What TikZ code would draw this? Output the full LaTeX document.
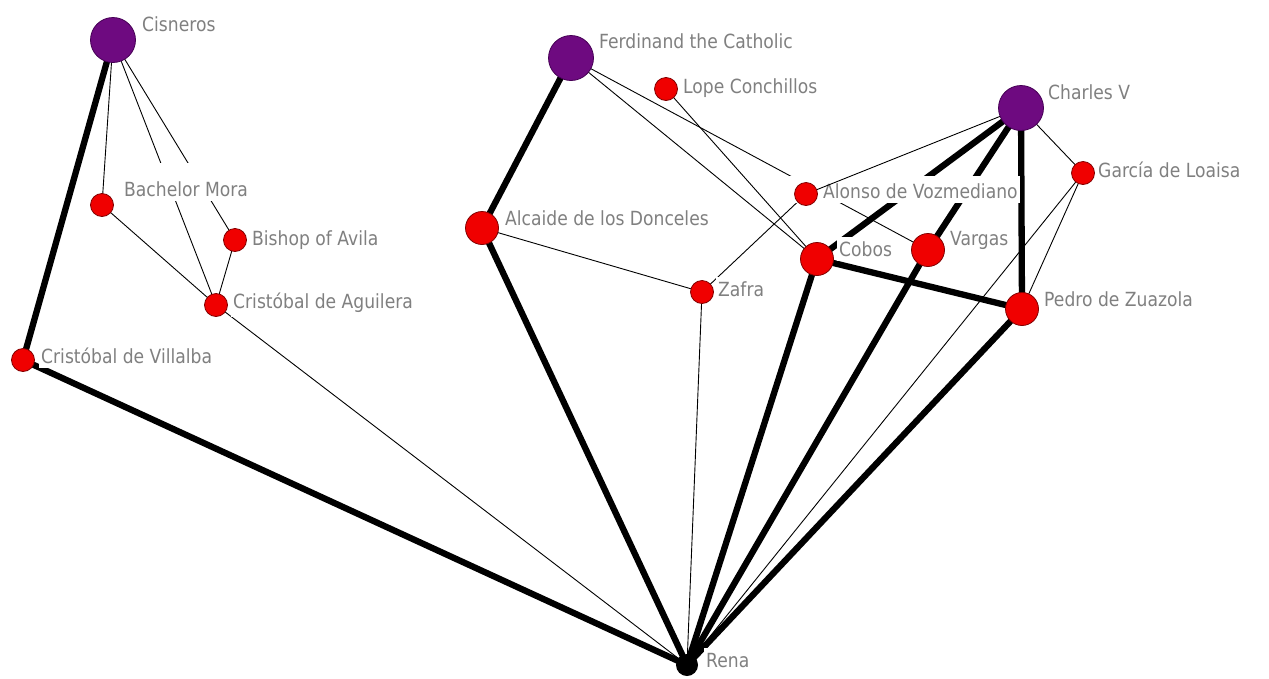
\documentclass[tikz,border=0pt]{standalone}
\usepackage{fontspec}
\setmainfont{DejaVu Sans}[FakeStretch=0.88]
\definecolor{labgray}{RGB}{128,128,128}
\definecolor{purp}{RGB}{110,10,128}
\definecolor{purpdark}{RGB}{70,0,85}
\definecolor{redfill}{RGB}{240,0,0}
\definecolor{reddark}{RGB}{130,0,0}
\tikzset{
  thin edge/.style={line width=0.9pt, black},
  thick edge/.style={line width=6.3pt, black},
  bignode/.style={circle, fill=purp, draw=purpdark, line width=0.8pt, minimum size=45pt, inner sep=0pt},
  midnode/.style={circle, fill=redfill, draw=reddark, line width=0.8pt, minimum size=33pt, inner sep=0pt},
  smallnode/.style={circle, fill=redfill, draw=reddark, line width=0.8pt, minimum size=23pt, inner sep=0pt},
  blacknode/.style={circle, fill=black, minimum size=22pt, inner sep=0pt},
  lab/.style={anchor=base west, fill=white, text=labgray, inner xsep=2pt, inner ysep=4.5pt, font=\fontsize{19.5}{22}\selectfont}
}
\begin{document}
\begin{tikzpicture}[x=1pt, y=-1pt]
\useasboundingbox (0,0) rectangle (1269,678);
% node centres
\coordinate (cis) at (113,40);
\coordinate (mora) at (102,205);
\coordinate (avila) at (235,240);
\coordinate (agui) at (216,305);
\coordinate (vill) at (23,360);
\coordinate (ferd) at (571,58);
\coordinate (lope) at (666,89);
\coordinate (alca) at (482,228);
\coordinate (zafra) at (702,292);
\coordinate (alon) at (806,194);
\coordinate (cobos) at (817,259);
\coordinate (varg) at (928,250);
\coordinate (charl) at (1021,108);
\coordinate (garc) at (1083,173);
\coordinate (pedro) at (1022,309);
\coordinate (rena) at (687,665);
% thin edges
\draw[thin edge] (cis) -- (mora);
\draw[thin edge] (cis) -- (agui);
\draw[thin edge] (cis) -- (avila);
\draw[thin edge] (mora) -- (agui);
\draw[thin edge] (avila) -- (agui);
\draw[thin edge] (agui) -- (rena);
\draw[thin edge] (ferd) -- (cobos);
\draw[thin edge] (ferd) -- (varg);
\draw[thin edge] (lope) -- (cobos);
\draw[thin edge] (alca) -- (zafra);
\draw[thin edge] (zafra) -- (alon);
\draw[thin edge] (zafra) -- (rena);
\draw[thin edge] (charl) -- (garc);
\draw[thin edge] (garc) -- (pedro);
\draw[thin edge] (garc) -- (rena);
% thick edges
\draw[thick edge] (cis) -- (vill);
\draw[thick edge] (vill) -- (rena);
\draw[thick edge] (ferd) -- (alca);
\draw[thick edge] (alca) -- (rena);
\draw[thick edge] (cobos) -- (rena);
\draw[thick edge] (varg) -- (rena);
\draw[thick edge] (pedro) -- (rena);
\draw[thick edge] (cobos) -- (pedro);
\draw[thick edge] (charl) -- (cobos);
\draw[thick edge] (charl) -- (varg);
\draw[thick edge] (charl) -- (pedro);
% labels
\node[lab] (cisL) at (140,31) {Cisneros};
\node[lab, text height=29pt] (moraL) at (122,196) {Bachelor Mora};
\node[lab] (avilaL) at (250,245) {Bishop of Avila};
\node[lab] (aguiL) at (231,308) {Cristóbal de Aguilera};
\node[lab] (villL) at (39,363) {Cristóbal de Villalba};
\node[lab] (ferdL) at (597,48) {Ferdinand the Catholic};
\node[lab] (lopeL) at (681,93) {Lope Conchillos};
\node[lab] (alcaL) at (503,225) {Alcaide de los Donceles};
\node[lab] (zafraL) at (716,296) {Zafra};
\node[lab, text height=17.5pt] (alonL) at (783,198) {\hspace*{38pt}Alonso de Vozmediano};
\node[lab] (cobosL) at (837,256) {Cobos};
\node[lab] (vargL) at (948,245) {Vargas};
\node[lab] (charlL) at (1046,99) {Charles V};
\node[lab] (garcL) at (1096,177) {García de Loaisa};
\node[lab] (pedroL) at (1042,306) {Pedro de Zuazola};
\node[lab] (renaL) at (704,667) {Rena};
% edge drawn over the labels
\draw[thin edge] (alon) -- (charl);
% nodes
\node[bignode] (n-cis) at (cis) {};
\node[smallnode] (n-mora) at (mora) {};
\node[smallnode] (n-avila) at (avila) {};
\node[smallnode] (n-agui) at (agui) {};
\node[smallnode] (n-vill) at (vill) {};
\node[bignode] (n-ferd) at (ferd) {};
\node[smallnode] (n-lope) at (lope) {};
\node[midnode] (n-alca) at (alca) {};
\node[smallnode] (n-zafra) at (zafra) {};
\node[smallnode] (n-alon) at (alon) {};
\node[midnode] (n-cobos) at (cobos) {};
\node[midnode] (n-varg) at (varg) {};
\node[bignode] (n-charl) at (charl) {};
\node[smallnode] (n-garc) at (garc) {};
\node[midnode] (n-pedro) at (pedro) {};
\node[blacknode] (n-rena) at (rena) {};
\end{tikzpicture}
\end{document}
